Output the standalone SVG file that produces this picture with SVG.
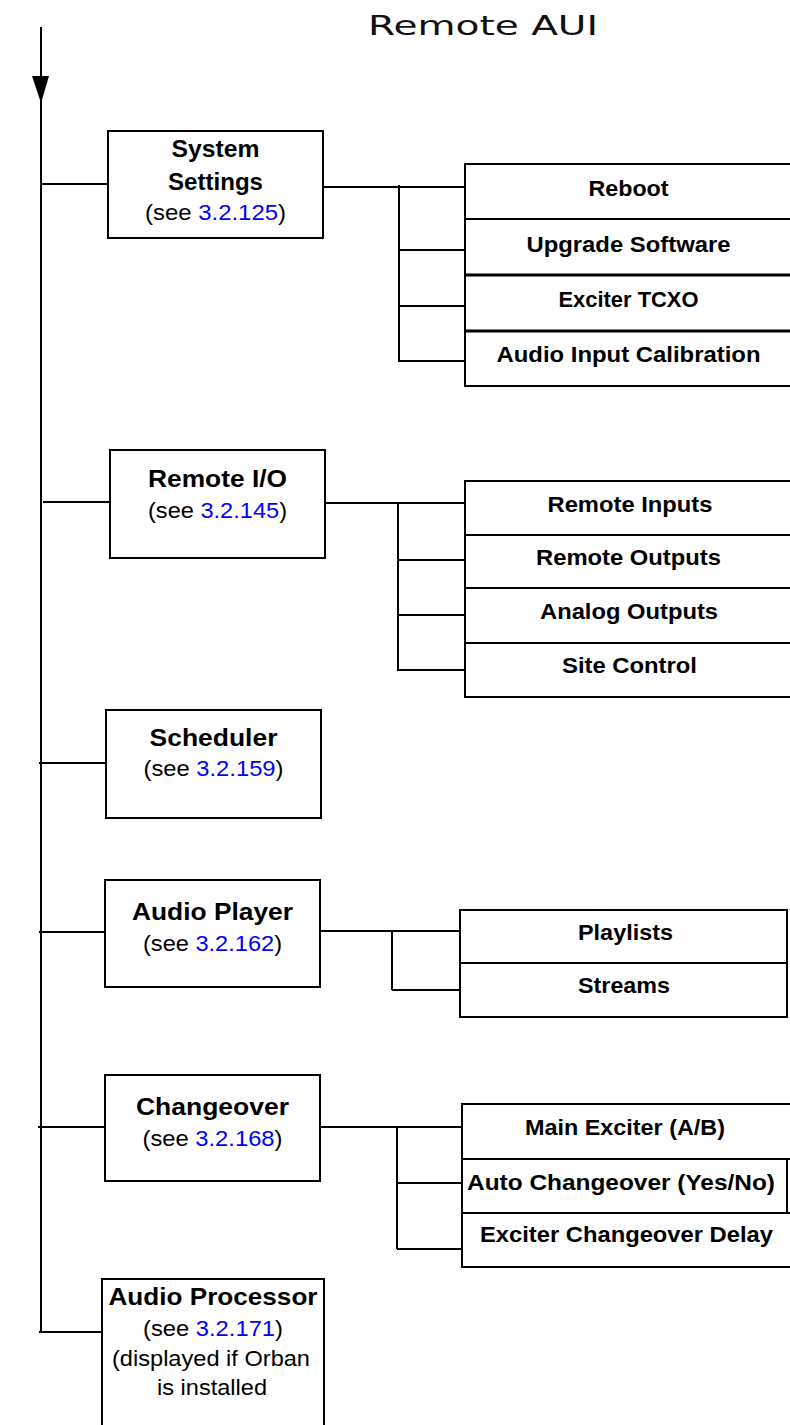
<svg xmlns="http://www.w3.org/2000/svg" width="790" height="1425" viewBox="0 0 790 1425">
<style>
.ln{stroke:#000;stroke-width:2;fill:none}
.bx{stroke:#000;stroke-width:2;fill:#fff}
.thk{stroke:#000;stroke-width:3}
.t{font-family:"Liberation Sans",Arial,sans-serif;font-weight:bold;font-size:24px;fill:#000;text-anchor:middle}
.s{font-family:"Liberation Sans",Arial,sans-serif;font-size:22px;fill:#000;text-anchor:middle}
.m{font-family:"Liberation Sans",Arial,sans-serif;font-weight:bold;font-size:22px;fill:#000;text-anchor:middle}
.lk{fill:#0000FF}
.title{font-family:"DejaVu Sans",sans-serif;font-size:27px;fill:#111}
</style>
<rect width="790" height="1425" fill="#fff"/>
<text class="title" x="368" y="35" textLength="230" lengthAdjust="spacingAndGlyphs">Remote AUI</text>

<g id="connectors">
<line class="ln" x1="41" y1="27" x2="41" y2="1333"/>
<polygon points="32,76 49,76 41,103" fill="#000"/>
<line class="ln" x1="41" y1="184" x2="108" y2="184"/>
<line class="ln" x1="43" y1="502" x2="110" y2="502"/>
<line class="ln" x1="39" y1="763" x2="107" y2="763"/>
<line class="ln" x1="39" y1="932" x2="105" y2="932"/>
<line class="ln" x1="38" y1="1127" x2="105" y2="1127"/>
<line class="ln" x1="39" y1="1332" x2="102" y2="1332"/>
<!-- System Settings branch -->
<line class="ln" x1="323" y1="187" x2="467" y2="187"/>
<line class="ln" x1="399" y1="185" x2="399" y2="362"/>
<line class="ln" x1="399" y1="250" x2="467" y2="250"/>
<line class="ln" x1="399" y1="306" x2="467" y2="306"/>
<line class="ln" x1="399" y1="361" x2="467" y2="361"/>
<!-- Remote I/O branch -->
<line class="ln" x1="325" y1="503" x2="466" y2="503"/>
<line class="ln" x1="398" y1="503" x2="398" y2="670"/>
<line class="ln" x1="397" y1="560" x2="466" y2="560"/>
<line class="ln" x1="397" y1="615" x2="466" y2="615"/>
<line class="ln" x1="397" y1="670" x2="466" y2="670"/>
<!-- Audio Player branch -->
<line class="ln" x1="320" y1="931" x2="460" y2="931"/>
<line class="ln" x1="392" y1="931" x2="392" y2="990"/>
<line class="ln" x1="392" y1="990" x2="460" y2="990"/>
<!-- Changeover branch -->
<line class="ln" x1="320" y1="1127" x2="462" y2="1127"/>
<line class="ln" x1="397" y1="1126" x2="397" y2="1249"/>
<line class="ln" x1="397" y1="1183" x2="462" y2="1183"/>
<line class="ln" x1="397" y1="1249" x2="463" y2="1249"/>
</g>

<g id="system-settings">
<rect class="bx" x="108" y="131" width="215" height="107"/>
<text class="t" x="215.5" y="157" textLength="88" lengthAdjust="spacingAndGlyphs">System</text>
<text class="t" x="215.5" y="190" textLength="95" lengthAdjust="spacingAndGlyphs">Settings</text>
<text class="s" x="215.5" y="220" textLength="141" lengthAdjust="spacingAndGlyphs">(see <tspan class="lk">3.2.125</tspan>)</text>
</g>
<g id="system-settings-menu">
<rect class="bx" x="465" y="164" width="335" height="55"/>
<rect class="bx" x="465" y="219" width="335" height="56"/>
<rect class="bx" x="465" y="275" width="335" height="56"/>
<rect class="bx" x="465" y="331" width="335" height="55"/>
<line class="thk" x1="465" y1="275" x2="800" y2="275"/>
<line class="thk" x1="465" y1="331" x2="800" y2="331"/>
<text class="m" x="628.5" y="196" textLength="80" lengthAdjust="spacingAndGlyphs">Reboot</text>
<text class="m" x="628.5" y="252" textLength="204" lengthAdjust="spacingAndGlyphs">Upgrade Software</text>
<text class="m" x="628.5" y="307" textLength="140" lengthAdjust="spacingAndGlyphs">Exciter TCXO</text>
<text class="m" x="628.5" y="362" textLength="264" lengthAdjust="spacingAndGlyphs">Audio Input Calibration</text>
</g>

<g id="remote-io">
<rect class="bx" x="110" y="450" width="215" height="108"/>
<text class="t" x="217.5" y="487" textLength="139" lengthAdjust="spacingAndGlyphs">Remote I/O</text>
<text class="s" x="217.5" y="518" textLength="139" lengthAdjust="spacingAndGlyphs">(see <tspan class="lk">3.2.145</tspan>)</text>
</g>
<g id="remote-io-menu">
<rect class="bx" x="465" y="481" width="335" height="54"/>
<rect class="bx" x="465" y="535" width="335" height="53"/>
<rect class="bx" x="465" y="588" width="335" height="55"/>
<rect class="bx" x="465" y="643" width="335" height="54"/>
<text class="m" x="630" y="512" textLength="165" lengthAdjust="spacingAndGlyphs">Remote Inputs</text>
<text class="m" x="628.5" y="565" textLength="185" lengthAdjust="spacingAndGlyphs">Remote Outputs</text>
<text class="m" x="629" y="619" textLength="178" lengthAdjust="spacingAndGlyphs">Analog Outputs</text>
<text class="m" x="629.5" y="673" textLength="135" lengthAdjust="spacingAndGlyphs">Site Control</text>
</g>

<g id="scheduler">
<rect class="bx" x="106" y="710" width="215" height="108"/>
<text class="t" x="213.5" y="746" textLength="128" lengthAdjust="spacingAndGlyphs">Scheduler</text>
<text class="s" x="213.5" y="776" textLength="140" lengthAdjust="spacingAndGlyphs">(see <tspan class="lk">3.2.159</tspan>)</text>
</g>

<g id="audio-player">
<rect class="bx" x="105" y="880" width="215" height="107"/>
<text class="t" x="212.5" y="920" textLength="161" lengthAdjust="spacingAndGlyphs">Audio Player</text>
<text class="s" x="212.5" y="951" textLength="139" lengthAdjust="spacingAndGlyphs">(see <tspan class="lk">3.2.162</tspan>)</text>
</g>
<g id="audio-player-menu">
<rect class="bx" x="460" y="910" width="327" height="53"/>
<rect class="bx" x="460" y="963" width="327" height="54"/>
<text class="m" x="625.5" y="940" textLength="95" lengthAdjust="spacingAndGlyphs">Playlists</text>
<text class="m" x="624" y="993" textLength="92" lengthAdjust="spacingAndGlyphs">Streams</text>
</g>

<g id="changeover">
<rect class="bx" x="105" y="1075" width="215" height="106"/>
<text class="t" x="212.5" y="1115" textLength="153" lengthAdjust="spacingAndGlyphs">Changeover</text>
<text class="s" x="212.5" y="1146" textLength="140" lengthAdjust="spacingAndGlyphs">(see <tspan class="lk">3.2.168</tspan>)</text>
</g>
<g id="changeover-menu">
<rect class="bx" x="462" y="1104" width="340" height="55"/>
<rect class="bx" x="462" y="1213" width="340" height="54"/>
<rect class="bx" x="462" y="1159" width="325" height="54"/>
<text class="m" x="625" y="1135" textLength="200" lengthAdjust="spacingAndGlyphs">Main Exciter (A/B)</text>
<text class="m" x="621" y="1190" textLength="308" lengthAdjust="spacingAndGlyphs">Auto Changeover (Yes/No)</text>
<text class="m" x="626.5" y="1242" textLength="293" lengthAdjust="spacingAndGlyphs">Exciter Changeover Delay</text>
</g>

<g id="audio-processor">
<rect class="bx" x="102" y="1279" width="222" height="160"/>
<text class="t" x="213" y="1305" textLength="209" lengthAdjust="spacingAndGlyphs">Audio Processor</text>
<text class="s" x="213" y="1336" textLength="140" lengthAdjust="spacingAndGlyphs">(see <tspan class="lk">3.2.171</tspan>)</text>
<text class="s" x="211" y="1366" textLength="198" lengthAdjust="spacingAndGlyphs">(displayed if Orban</text>
<text class="s" x="212" y="1395" textLength="110" lengthAdjust="spacingAndGlyphs">is installed</text>
</g>
</svg>
